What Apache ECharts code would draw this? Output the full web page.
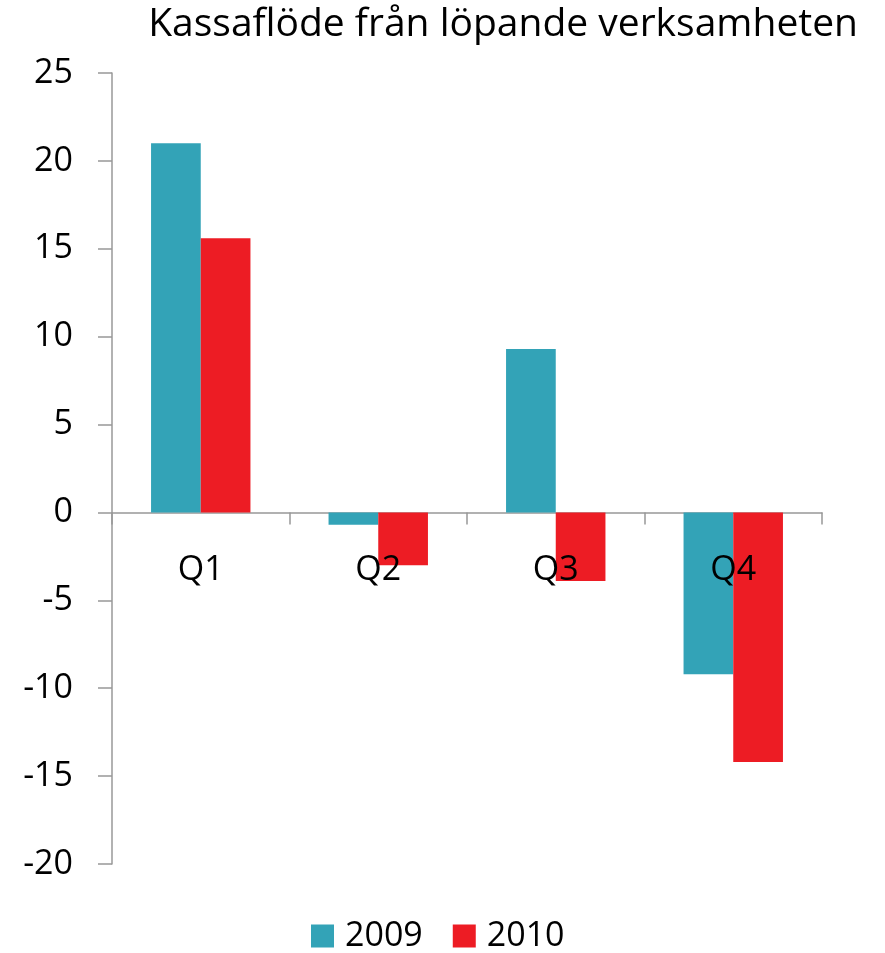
<!DOCTYPE html>
<html><head><meta charset="utf-8">
<script src="https://cdn.jsdelivr.net/npm/echarts@6/dist/echarts.min.js"></script>
<style>html,body{margin:0;padding:0;background:#fff}#c{width:885px;height:953px}</style>
</head><body><div id="c"></div>
<script>
const categories = ['Q1','Q2','Q3','Q4'];
const series2009 = [21.0, -0.7, 9.3, -9.2];
const series2010 = [15.6, -3.0, -3.9, -14.2];
const yTicks = [-20,-15,-10,-5,0,5,10,15,20,25];
const titleText = 'Kassaflöde från löpande verksamheten';

const chart = echarts.init(document.getElementById('c'));
const font = '"Open Sans", "Noto Sans", sans-serif';
const axisColor = '#989898';
chart.setOption({
  animation: false,
  title: { text: titleText, right: 22, top: 0,
    textStyle: { fontFamily: font, fontSize: 39, fontWeight: 'normal', color: '#000' } },
  legend: { bottom: -5, left: 306, itemWidth: 23, itemHeight: 23, itemGap: 30,
    icon: 'rect',
    textStyle: { fontFamily: font, fontSize: 34, color: '#000', padding: [0,0,0,6] },
    data: ['2009','2010'] },
  grid: { left: 112, right: 63, top: 73, bottom: 89 },
  xAxis: [
    { type: 'category', data: categories,
      axisLine: { onZero: true, lineStyle: { color: axisColor, width: 1.5 } },
      axisTick: { show: true, length: 12, lineStyle: { color: axisColor, width: 1.5 } },
      axisLabel: { show: false } },
    { type: 'category', data: categories, position: 'bottom', offset: -352, z: 10,
      axisLine: { show: false }, axisTick: { show: false },
      axisLabel: { fontFamily: font, fontSize: 34, color: '#000', margin: 41 } }
  ],
  yAxis: { type: 'value', min: yTicks[0], max: yTicks[yTicks.length-1], interval: 5,
    splitLine: { show: false },
    axisLine: { show: true, lineStyle: { color: axisColor, width: 1.5 } },
    axisTick: { show: true, inside: false, length: 14, lineStyle: { color: axisColor, width: 1.5 } },
    axisLabel: { fontFamily: font, fontSize: 34, color: '#000', margin: 39 } },
  series: [
    { name: '2009', type: 'bar', data: series2009, xAxisIndex: 0, barGap: '0%', barCategoryGap: '44%',
      itemStyle: { color: '#33A3B7' }, z: 5 },
    { name: '2010', type: 'bar', data: series2010, xAxisIndex: 0, barGap: '0%', barCategoryGap: '44%',
      itemStyle: { color: '#ED1C24' }, z: 5 }
  ]
});
</script></body></html>
